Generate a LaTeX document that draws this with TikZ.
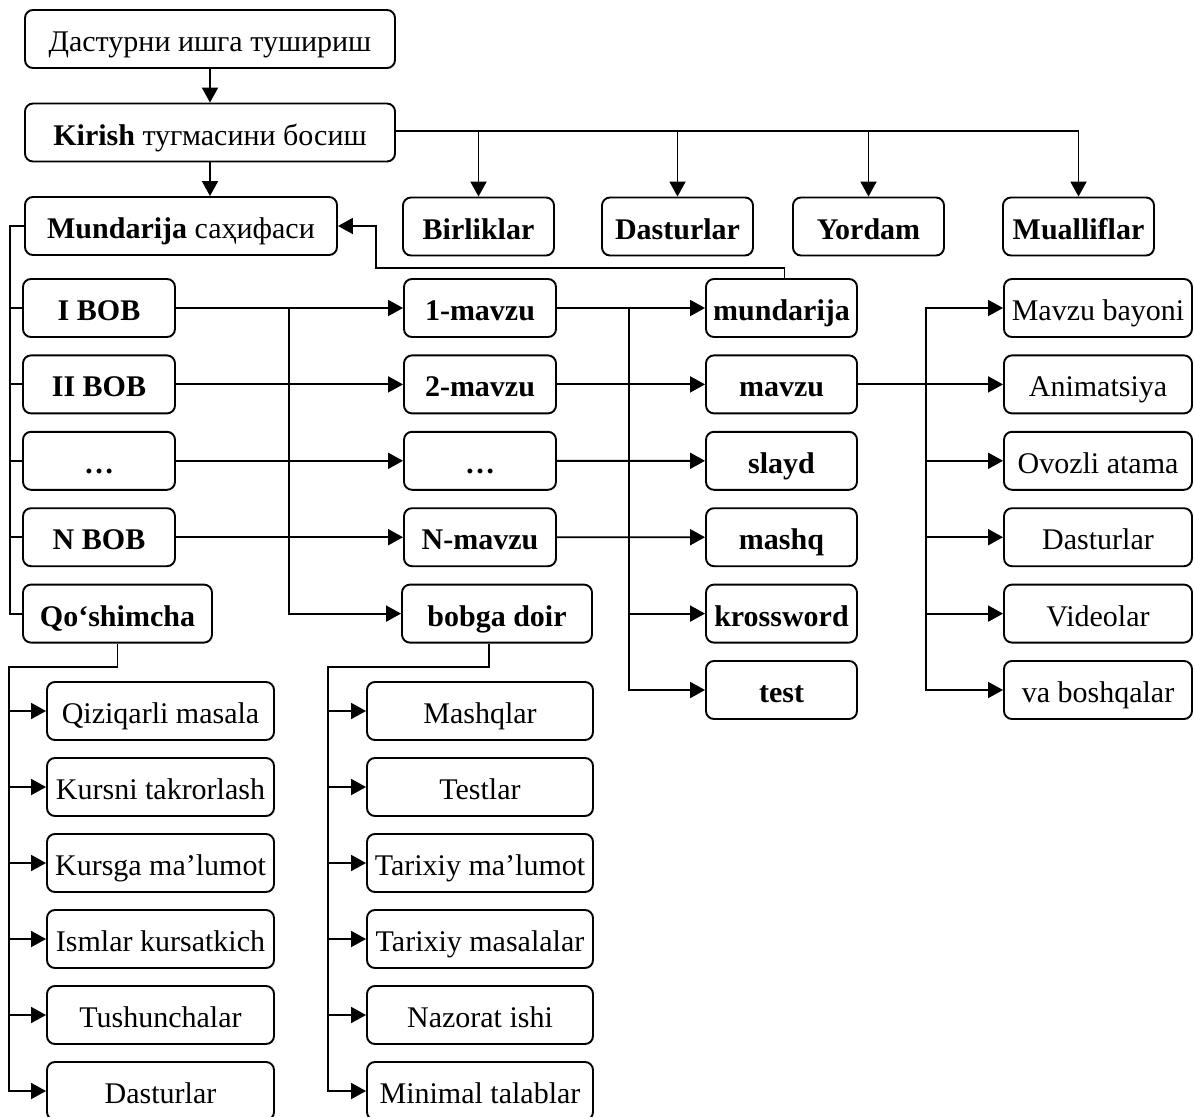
\documentclass[tikz,border=0pt]{standalone}
\usepackage{fontspec}
\setmainfont{Liberation Serif}
\usetikzlibrary{arrows.meta,positioning}
\tikzset{
 mnu box/.style={draw,line width=1.9pt,rounded corners=8pt,minimum height=58pt,
                 inner sep=0pt,text height=25pt,text depth=0pt,
                 font=\fontsize{30}{35}\selectfont},
 mnu bold/.style={mnu box,font=\fontsize{30}{35}\selectfont\bfseries},
 mnu line/.style={line width=1.9pt},
 mnu arrow/.style={mnu line,-{Triangle[length=15pt,width=16pt]}}
}
\begin{document}
\begin{tikzpicture}[x=1pt,y=-1pt]
 \useasboundingbox (0,0) rectangle (1195,1117);
 \node[mnu box,minimum width=370pt] (start) at (210,39) {Дастурни ишга тушириш};
 \node[mnu box,minimum width=370pt] (kirish) at (210,132.5) {\textbf{Kirish} тугмасини босиш};
 \node[mnu box,minimum width=312pt] (mund) at (181,226) {\textbf{Mundarija} саҳифаси};
 % top row
 \node[mnu bold,minimum width=151pt] (birl) at (478.5,226.5) {Birliklar};
 \node[mnu bold,minimum width=151pt] (dast) at (677.5,226.5) {Dasturlar};
 \node[mnu bold,minimum width=151pt] (yord) at (868.5,226.5) {Yordam};
 \node[mnu bold,minimum width=151pt] (muall) at (1078.5,226.5) {Mualliflar};
 % chapters
 \foreach \n/\y/\t in {bob1/308/I BOB,bob2/384.4/II BOB,bobd/460.8/…,bobn/537.2/N BOB}
   \node[mnu bold,minimum width=152pt] (\n) at (99,\y) {\t};
 \node[mnu bold,minimum width=189pt] (qosh) at (117.5,613.6) {Qo‘shimcha};
 % topics
 \foreach \n/\y/\t in {mav1/308/1-mavzu,mav2/384.4/2-mavzu,mavd/460.8/…,mavn/537.2/N-mavzu}
   \node[mnu bold,minimum width=152pt] (\n) at (480,\y) {\t};
 \node[mnu bold,minimum width=190pt] (bobga) at (497,613.6) {bobga doir};
 % parts of a topic
 \foreach \t [count=\i] in {mundarija,mavzu,slayd,mashq,krossword,test}
   \node[mnu bold,minimum width=151pt] (p\i) at (781.5,{308+76.4*(\i-1)}) {\t};
 \foreach \t [count=\i] in {Mavzu bayoni,Animatsiya,Ovozli atama,Dasturlar,Videolar,va boshqalar}
   \node[mnu box,minimum width=188pt] (c\i) at (1098,{308+76.4*(\i-1)}) {\t};
 % appendix and chapter pages
 \foreach \t [count=\i] in {Qiziqarli masala,Kursni takrorlash,Kursga ma’lumot,Ismlar kursatkich,Tushunchalar,Dasturlar}
   \node[mnu box,minimum width=227pt] (q\i) at (160.5,{711+76*(\i-1)}) {\t};
 \foreach \t [count=\i] in {Mashqlar,Testlar,Tarixiy ma’lumot,Tarixiy masalalar,Nazorat ishi,Minimal talablar}
   \node[mnu box,minimum width=226pt] (b\i) at (480,{711+76*(\i-1)}) {\t};

 \coordinate (back) at (376,268);
 \coordinate (lbus) at (10,0);
 \coordinate (mbus) at (289,0);
 \coordinate (rbus) at (629,0);
 \coordinate (fbus) at (926,0);
 \coordinate (qk) at (9,667);
 \coordinate (bk) at (328,667);

 \draw[mnu arrow] (start.south) -- (start.south |- kirish.north);
 \draw[mnu arrow] (kirish.south) -- (kirish.south |- mund.north);
 \draw[mnu arrow] ([yshift=1.5pt]kirish.east) -| (muall);
 \foreach \b in {birl,dast,yord}
   \draw[mnu arrow] ([yshift=1.5pt]kirish.east -| \b) -- (\b);
 \draw[mnu arrow] ([xshift=3pt]p1.north) |- (back) |- (mund.east);
 % left bus
 \draw[mnu line] (mund.west) -| (lbus |- qosh.west) -- (qosh.west);
 \foreach \n in {bob1,bob2,bobd,bobn}
   \draw[mnu line] (lbus |- \n.west) -- (\n.west);
 % chapters to topics
 \foreach \a/\b in {bob1/mav1,bob2/mav2,bobd/mavd,bobn/mavn}
   \draw[mnu arrow] (\a.east) -- (\b.west);
 \draw[mnu arrow] (mbus |- bob1.east) |- (bobga.west);
 % topics to parts
 \foreach \a/\b in {mav1/p1,mav2/p2,mavd/p3,mavn/p4}
   \draw[mnu arrow] (\a.east) -- (\b.west);
 \draw[mnu arrow] (rbus |- mav1.east) |- (p6.west);
 \draw[mnu arrow] (rbus |- p5.west) -- (p5.west);
 % parts of mavzu
 \draw[mnu arrow] (p2.east) -- (c2.west);
 \draw[mnu arrow] (fbus |- c2.west) |- (c1.west);
 \draw[mnu arrow] (fbus |- c2.west) |- (c6.west);
 \foreach \i in {3,4,5}
   \draw[mnu arrow] (fbus |- c\i.west) -- (c\i.west);
 % bottom lists
 \draw[mnu arrow] (qosh.south) |- (qk) |- (q6.west);
 \draw[mnu arrow] ([xshift=-8pt]bobga.south) |- (bk) |- (b6.west);
 \foreach \i in {1,...,5} {
   \draw[mnu arrow] (qk |- q\i.west) -- (q\i.west);
   \draw[mnu arrow] (bk |- b\i.west) -- (b\i.west);
 }
\end{tikzpicture}
\end{document}
